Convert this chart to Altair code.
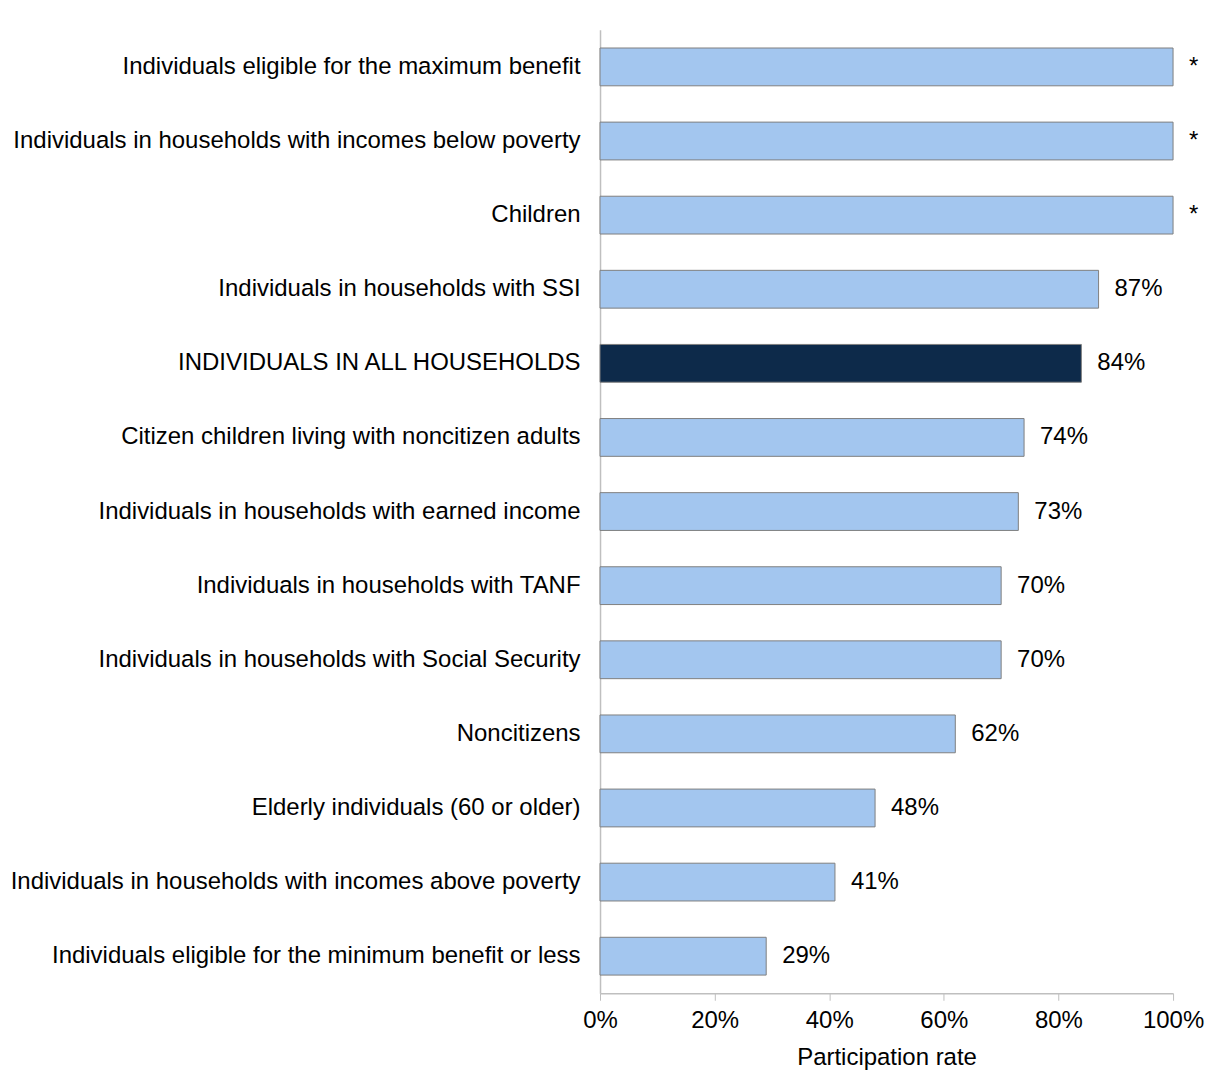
import altair as alt
import pandas as pd

categories = [
    "Individuals eligible for the maximum benefit ",
    "Individuals in households with incomes below poverty",
    "Children",
    "Individuals in households with SSI",
    "INDIVIDUALS IN ALL HOUSEHOLDS",
    "Citizen children living with noncitizen adults",
    "Individuals in households with earned income",
    "Individuals in households with TANF",
    "Individuals in households with Social Security",
    "Noncitizens",
    "Elderly individuals (60 or older)",
    "Individuals in households with incomes above poverty",
    "Individuals eligible for the minimum benefit or less",
]
rates = [100, 100, 100, 87, 84, 74, 73, 70, 70, 62, 48, 41, 29]
labels = ["*", "*", "*", "87%", "84%", "74%", "73%", "70%", "70%", "62%", "48%", "41%", "29%"]
highlight = [False, False, False, False, True, False, False, False, False, False, False, False, False]

df = pd.DataFrame({
    "category": categories,
    "rate": [r / 100 for r in rates],
    "label": labels,
    "group": ["all" if h else "sub" for h in highlight],
})

FONT = "Liberation Sans"
FS = 24

y_enc = alt.Y(
    "category:N",
    sort=categories,
    scale=alt.Scale(paddingInner=0.49, paddingOuter=0.245),
    axis=alt.Axis(
        title=None,
        ticks=False,
        labelPadding=20,
        labelFontSize=FS,
        labelFont=FONT,
        labelColor="#000000",
        labelLimit=800,
        domainColor="#BFBFBF",
        domainWidth=1.5,
    ),
)

bars = alt.Chart(df).mark_bar(stroke="#7F7F7F", strokeWidth=1).encode(
    x=alt.X(
        "rate:Q",
        scale=alt.Scale(domain=[0, 1], nice=False),
        axis=alt.Axis(
            format="%",
            values=[0, 0.2, 0.4, 0.6, 0.8, 1.0],
            title="Participation rate",
            titleFont=FONT,
            titleFontSize=FS,
            titleFontWeight="normal",
            titleColor="#000000",
            titlePadding=13,
            labelFont=FONT,
            labelFontSize=FS,
            labelColor="#000000",
            labelPadding=8,
            labelFlush=False,
            grid=False,
            tickColor="#BFBFBF",
            tickSize=7,
            domainColor="#BFBFBF",
            domainWidth=1.5,
        ),
    ),
    y=y_enc,
    color=alt.Color(
        "group:N",
        scale=alt.Scale(domain=["sub", "all"], range=["#A3C6EF", "#0D2A4A"]),
        legend=None,
    ),
)

text = alt.Chart(df).mark_text(
    align="left", baseline="middle", dx=16, font=FONT, fontSize=FS, color="#000000"
).encode(
    x="rate:Q",
    y=alt.Y("category:N", sort=categories),
    text="label:N",
)

chart = (bars + text).properties(
    width=574,
    height=965,
    background="#FFFFFF",
    padding={"left": 2, "top": 21, "right": 5, "bottom": 5},
).configure_view(strokeWidth=0, stroke=None)

chart.save("out.html", embed_options={"renderer": "svg", "actions": False})
